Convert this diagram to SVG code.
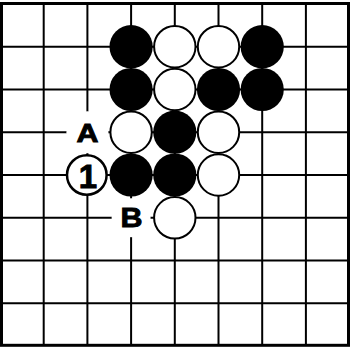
<svg xmlns="http://www.w3.org/2000/svg" width="351" height="347" viewBox="0 0 351 347">
<style>
.grid line{stroke:#000;stroke-width:2}
.b{fill:#000}
.w{fill:#fff;stroke:#000;stroke-width:2}
.lbl{font-family:"Liberation Sans",Arial,sans-serif;font-weight:bold;text-anchor:middle;fill:#000;stroke:#000;stroke-width:0.9}
.bg{fill:#fff}
</style>
<rect x="0" y="0" width="351" height="347" fill="#fff"/>
<g id="connectors" class="grid">
<line x1="43.7" y1="3.5" x2="43.7" y2="345"/>
<line x1="87.4" y1="3.5" x2="87.4" y2="345"/>
<line x1="131.1" y1="3.5" x2="131.1" y2="345"/>
<line x1="174.8" y1="3.5" x2="174.8" y2="345"/>
<line x1="218.5" y1="3.5" x2="218.5" y2="345"/>
<line x1="262.2" y1="3.5" x2="262.2" y2="345"/>
<line x1="305.9" y1="3.5" x2="305.9" y2="345"/>
<line x1="1.5" y1="46.7" x2="348.5" y2="46.7"/>
<line x1="1.5" y1="89.5" x2="348.5" y2="89.5"/>
<line x1="1.5" y1="132.2" x2="348.5" y2="132.2"/>
<line x1="1.5" y1="175" x2="348.5" y2="175"/>
<line x1="1.5" y1="217.8" x2="348.5" y2="217.8"/>
<line x1="1.5" y1="260.6" x2="348.5" y2="260.6"/>
<line x1="1.5" y1="303.3" x2="348.5" y2="303.3"/>
</g>
<rect id="border" x="1.5" y="3.5" width="347" height="341.8" fill="none" stroke="#000" stroke-width="3"/>
<g id="s1"><circle class="b" cx="131.1" cy="46.7" r="21.6"/></g>
<g id="s2"><circle class="w" cx="174.8" cy="46.7" r="20.7"/></g>
<g id="s3"><circle class="w" cx="218.5" cy="46.7" r="20.7"/></g>
<g id="s4"><circle class="b" cx="262.2" cy="46.7" r="21.6"/></g>
<g id="s5"><circle class="b" cx="131.1" cy="89.5" r="21.6"/></g>
<g id="s6"><circle class="w" cx="174.8" cy="89.5" r="20.7"/></g>
<g id="s7"><circle class="b" cx="218.5" cy="89.5" r="21.6"/></g>
<g id="s8"><circle class="b" cx="262.2" cy="89.5" r="21.6"/></g>
<g id="s9"><circle class="w" cx="131.1" cy="132.2" r="20.7"/></g>
<g id="s10"><circle class="b" cx="174.8" cy="132.2" r="21.6"/></g>
<g id="s11"><circle class="w" cx="218.5" cy="132.2" r="20.7"/></g>
<g id="s12"><circle class="b" cx="131.1" cy="175" r="21.6"/></g>
<g id="s13"><circle class="b" cx="174.8" cy="175" r="21.6"/></g>
<g id="s14"><circle class="w" cx="218.5" cy="175" r="20.7"/></g>
<g id="s15"><circle class="w" cx="174.8" cy="217.8" r="20.7"/></g>
<g id="move1"><circle cx="86.8" cy="175" r="19.8" fill="#fff" stroke="#000" stroke-width="2.5"/><text class="lbl" x="88" y="188" font-size="33">1</text></g>
<g id="labelA"><circle class="bg" cx="87.4" cy="132.2" r="21"/><text class="lbl" x="87.6" y="142" font-size="26" textLength="22" lengthAdjust="spacingAndGlyphs">A</text></g>
<g id="labelB"><circle class="bg" cx="131.1" cy="217.8" r="19.5"/><text class="lbl" x="131.6" y="227" font-size="27" textLength="22" lengthAdjust="spacingAndGlyphs">B</text></g>
</svg>
